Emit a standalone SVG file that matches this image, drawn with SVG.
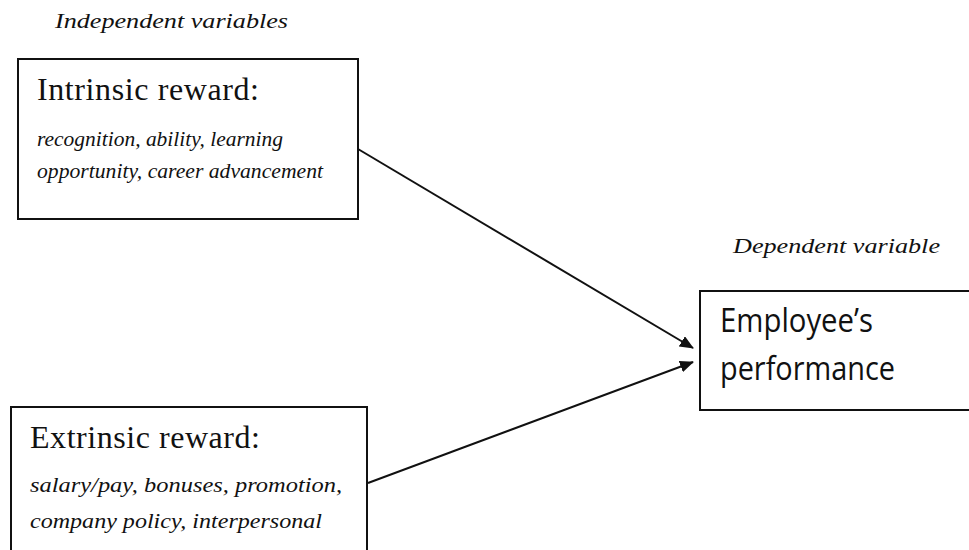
<svg xmlns="http://www.w3.org/2000/svg" width="969" height="550" viewBox="0 0 969 550">
<style>
.box{fill:#fff;stroke:#111;stroke-width:2}
.cap{font-family:"Liberation Serif",serif;font-style:italic;font-size:22px;fill:#111}
.title{font-family:"Liberation Serif",serif;font-size:32px;fill:#111}
.item{font-family:"Liberation Serif",serif;font-style:italic;font-size:21px;fill:#111}
.sans{font-family:"Open Sans","Liberation Sans",sans-serif;font-size:32px;fill:#111}
.conn{stroke:#111;stroke-width:2;fill:none;marker-end:url(#ah)}
</style>
<defs>
<marker id="ah" viewBox="0 0 14 12" refX="13" refY="6" markerWidth="14" markerHeight="12" markerUnits="userSpaceOnUse" orient="auto">
<path d="M0,0 L14,6 L0,12 z" fill="#111"/>
</marker>
</defs>
<rect width="969" height="550" fill="#fff"/>
<text class="cap" x="55" y="28" textLength="233" lengthAdjust="spacingAndGlyphs">Independent variables</text>
<text class="cap" x="733" y="253" textLength="207" lengthAdjust="spacingAndGlyphs">Dependent variable</text>
<g id="connectors">
<line class="conn" x1="358" y1="149" x2="693" y2="348"/>
<line class="conn" x1="368" y1="483" x2="693" y2="362"/>
</g>
<g id="intrinsic">
<rect class="box" x="18" y="59" width="340" height="160"/>
<text class="title" x="37" y="100" textLength="222">Intrinsic reward:</text>
<text class="item" x="37" y="146" textLength="246" lengthAdjust="spacingAndGlyphs">recognition,  ability, learning</text>
<text class="item" x="37" y="178" textLength="286" lengthAdjust="spacingAndGlyphs">opportunity, career advancement</text>
</g>
<g id="extrinsic">
<rect class="box" x="11" y="407" width="356" height="160"/>
<text class="title" x="30" y="448" textLength="230">Extrinsic reward:</text>
<text class="item" x="30" y="492" textLength="312" lengthAdjust="spacingAndGlyphs">salary/pay,  bonuses, promotion,</text>
<text class="item" x="30" y="528" textLength="292" lengthAdjust="spacingAndGlyphs">company policy, interpersonal</text>
</g>
<g id="performance">
<rect class="box" x="700" y="291" width="280" height="119"/>
<text class="sans" x="720" y="332" textLength="153" lengthAdjust="spacingAndGlyphs">Employee’s</text>
<text class="sans" x="720" y="380" textLength="175" lengthAdjust="spacingAndGlyphs">performance</text>
</g>
</svg>
